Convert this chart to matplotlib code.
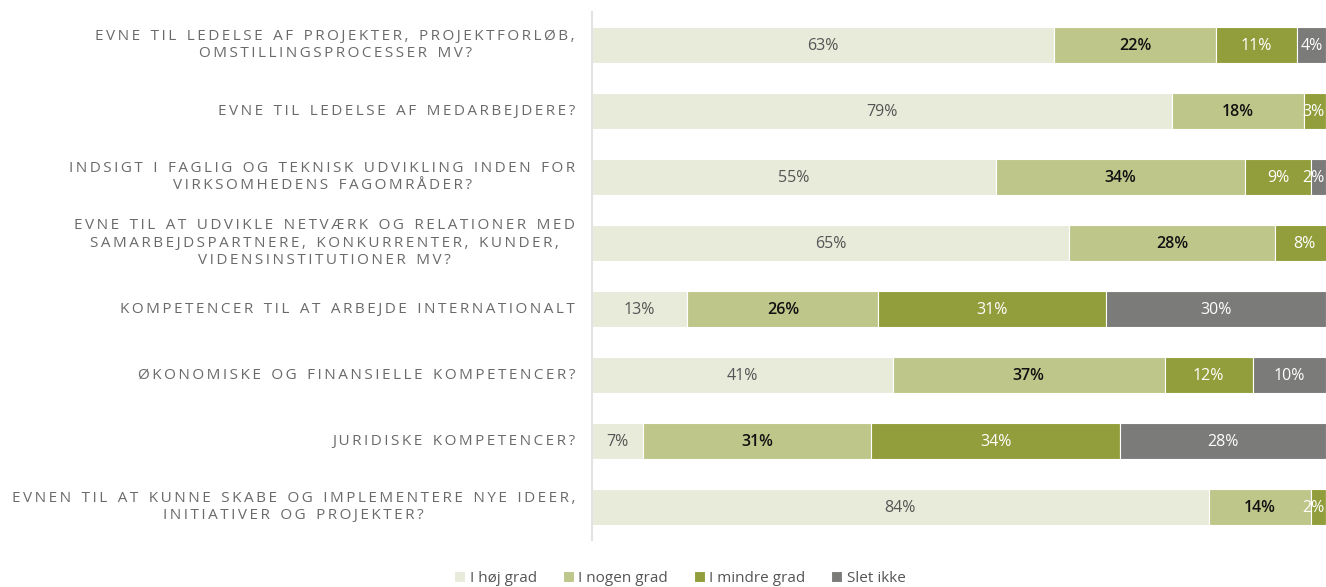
import matplotlib

matplotlib.use("Agg")
import matplotlib.pyplot as plt
import numpy as np

questions = [
    "EVNE TIL LEDELSE AF PROJEKTER, PROJEKTFORLØB,\nOMSTILLINGSPROCESSER MV?",
    "EVNE TIL LEDELSE AF MEDARBEJDERE?",
    "INDSIGT I FAGLIG OG TEKNISK UDVIKLING INDEN FOR\nVIRKSOMHEDENS FAGOMRÅDER?",
    "EVNE TIL AT UDVIKLE NETVÆRK OG RELATIONER MED\nSAMARBEJDSPARTNERE, KONKURRENTER, KUNDER,\nVIDENSINSTITUTIONER MV?",
    "KOMPETENCER TIL AT ARBEJDE INTERNATIONALT",
    "ØKONOMISKE OG FINANSIELLE KOMPETENCER?",
    "JURIDISKE KOMPETENCER?",
    "EVNEN TIL AT KUNNE SKABE OG IMPLEMENTERE NYE IDEER,\nINITIATIVER OG PROJEKTER?",
]
series = ["I høj grad", "I nogen grad", "I mindre grad", "Slet ikke"]
hoej = [63, 79, 55, 65, 13, 41, 7, 84]
nogen = [22, 18, 34, 28, 26, 37, 31, 14]
mindre = [11, 3, 9, 8, 31, 12, 34, 2]
slet = [4, 0, 2, 0, 30, 10, 28, 0]

colors = ["#e8ebda", "#bec68a", "#929e3b", "#7b7b79"]
text_colors = ["#555555", "#111111", "#ffffff", "#ffffff"]
FONT = ["Open Sans", "DejaVu Sans"]


def spaced(text, gap="\u2009"):
    # fake letter spacing: thin space between letters, wider gap between words
    lines = []
    for line in text.split("\n"):
        words = [gap.join(w) for w in line.split(" ")]
        lines.append((gap + " " + gap + "\u200a").join(words))
    return "\n".join(lines)


fig = plt.figure(figsize=(13.26, 5.87), dpi=100)
ax = fig.add_axes([592 / 1326, 47 / 587, 734 / 1326, 528 / 587])

y = np.arange(len(questions))
left = np.zeros(len(questions))
values = [hoej, nogen, mindre, slet]
for vals, col, tcol, name in zip(values, colors, text_colors, series):
    vals = np.array(vals, dtype=float)
    ax.barh(y, vals, left=left, height=0.55, color=col, edgecolor="white",
            linewidth=0.8, label=name)
    for yi, (l, v) in enumerate(zip(left, vals)):
        if v <= 0:
            continue
        cx = min(l + v / 2, 98.3)
        ax.text(cx, yi + 0.02, f"{int(v)}%", ha="center", va="center", fontsize=11.5,
                color=tcol, family=FONT,
                fontweight="semibold" if tcol == "#111111" else "normal")
    left += vals

ax.set_xlim(0, 100)
ax.set_ylim(len(questions) - 0.5, -0.5)
ax.set_xticks([])
ax.set_yticks([])
for s in ["top", "right", "bottom"]:
    ax.spines[s].set_visible(False)
ax.spines["left"].set_color("#e3e3e3")
ax.spines["left"].set_linewidth(1.5)

for yi, q in enumerate(questions):
    ax.text(-2.3, yi, spaced(q), ha="right", va="center", multialignment="center",
            fontsize=11, color="#6a6a6a", family=FONT, linespacing=1.2,
            transform=ax.transData)

handles, labels = ax.get_legend_handles_labels()
fig.legend(handles, labels, loc="center", bbox_to_anchor=(680 / 1326, 1 - 578 / 587),
           ncol=4, frameon=False, handlelength=0.7, handleheight=0.7,
           handletextpad=0.3, columnspacing=1.7, prop={"family": FONT, "size": 11},
           labelcolor="#555555")

fig.savefig("out.png", dpi=100)
